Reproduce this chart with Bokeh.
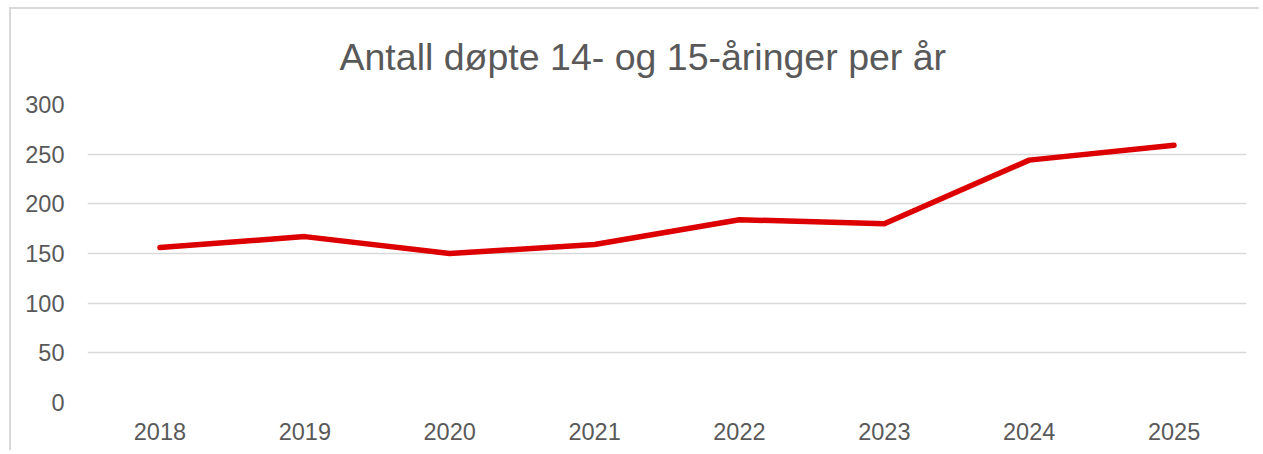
from bokeh.plotting import figure
from bokeh.models import FactorRange, Range1d, FixedTicker, ColumnDataSource
from bokeh.embed import file_html
from bokeh.resources import INLINE

years = ["2018", "2019", "2020", "2021", "2022", "2023", "2024", "2025"]
dopte = [156, 167, 150, 159, 184, 180, 244, 259]
y_ticks = [0, 50, 100, 150, 200, 250, 300]
title_text = "Antall døpte 14- og 15-åringer per år"

FONT = "Liberation Sans"
TXT = "#595959"
GRID = "#d9d9d9"

src = ColumnDataSource(dict(year=years, value=dopte))

p = figure(
    width=1250, height=443,
    x_range=FactorRange(*years, range_padding=0),
    y_range=Range1d(0, 300),
    output_backend="svg", toolbar_location=None,
    min_border_left=76, min_border_right=15, min_border_top=95, min_border_bottom=50,
)
p.styles = {"margin-left": "11px", "margin-top": "9px",
            "box-shadow": "-2px -2px 0 0 #d9d9d9"}

p.title.text = title_text
p.title.align = "left"
p.title.offset = 252
p.title.vertical_align = "top"
p.title.text_font = FONT
p.title.text_font_size = "37.5px"
p.title.text_font_style = "normal"
p.title.text_color = TXT
p.title.standoff = 49

p.line(x="year", y="value", source=src, line_color="#dd0000", line_width=5.5,
       line_join="round", line_cap="round")

p.outline_line_color = None
p.xgrid.grid_line_color = None
p.ygrid.grid_line_color = GRID
p.ygrid.grid_line_width = 1.5
p.yaxis.ticker = FixedTicker(ticks=y_ticks)

for ax in (p.xaxis, p.yaxis):
    ax.axis_line_color = None
    ax.major_tick_line_color = None
    ax.minor_tick_line_color = None
    ax.major_label_text_font = FONT
    ax.major_label_text_font_size = "23.5px"
    ax.major_label_text_color = TXT

p.yaxis.major_label_standoff = 17
p.xaxis.major_label_standoff = 14

open("out.html", "w").write(file_html(p, INLINE))
